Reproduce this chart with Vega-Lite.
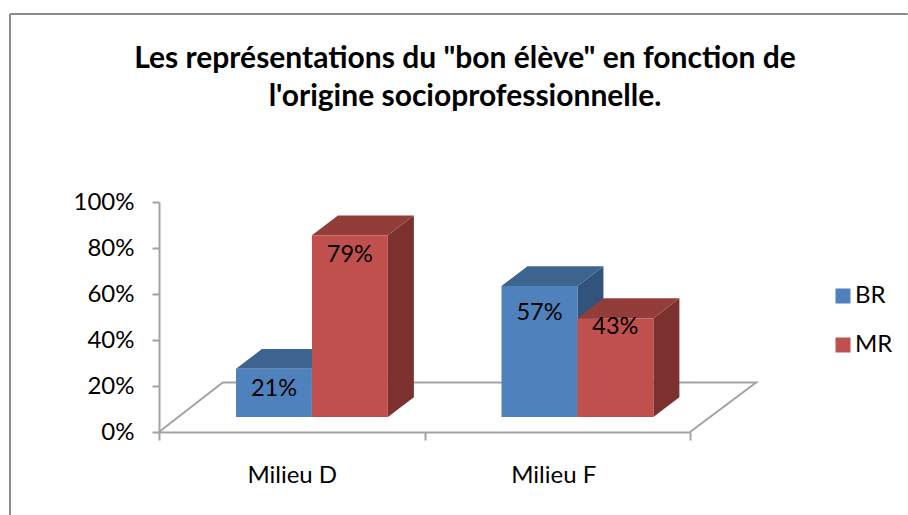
{
"$schema":"https://vega.github.io/schema/vega-lite/v6.json",
"width":898,"height":501,
"autosize":{"type":"none"},
"padding":{"left":10,"top":14,"right":0,"bottom":0},
"background":"white",
"config":{"view":{"stroke":null},"font":"Lato"},
"title":{"text":["Les représentations du \"bon élève\" en fonction de","l'origine socioprofessionnelle."],"font":"Lato","fontSize":30,"fontWeight":"bold","color":"#000000","anchor":"middle","lineHeight":38,"orient":"top","offset":-99,"dx":6},
"data":{"values":[
{"milieu":"Milieu D","serie":"BR","value":21},
{"milieu":"Milieu D","serie":"MR","value":79},
{"milieu":"Milieu F","serie":"BR","value":57},
{"milieu":"Milieu F","serie":"MR","value":43}]},
"transform":[
{"calculate":"(datum.milieu=='Milieu F'?1:0)+0.29+(datum.serie=='MR'?0.286:0)","as":"L"},
{"calculate":"datum.L+0.286","as":"R"},
{"calculate":"6.5","as":"base"},
{"calculate":"datum.base+datum.value","as":"top"},
{"calculate":"datum.milieu+datum.serie","as":"key"},
{"calculate":"(datum.L+datum.R)/2","as":"mid"},
{"calculate":"datum.top-(datum.value==57?11.7:datum.value==43?3.9:8.7)","as":"labY"},
{"calculate":"datum.value/100","as":"frac"}
],
"layer":[
{"transform":[{"filter":"datum.key=='Milieu DBR'"}],
 "mark":{"type":"rule","color":"#8c8c8c","strokeWidth":2},
 "encoding":{
  "x":{"datum":-0.5612,"type":"quantitative","scale":{"domain":[0,2],"range":[149,680],"nice":false,"zero":false},"axis":null},
  "y":{"datum":181.7,"type":"quantitative","scale":{"domain":[0,100],"range":[418,188],"nice":false},"axis":null},
  "y2":{"datum":-36.1}}},
{"transform":[{"filter":"datum.key=='Milieu DBR'"}],
 "mark":{"type":"rule","color":"#8c8c8c","strokeWidth":2},
 "encoding":{
  "x":{"datum":-0.5612,"type":"quantitative","scale":{"domain":[0,2],"range":[149,680],"nice":false,"zero":false},"axis":null},
  "x2":{"datum":2.82},
  "y":{"datum":181.7,"type":"quantitative","scale":{"domain":[0,100],"range":[418,188],"nice":false},"axis":null}}},
{"data":{"values":[{"fx":0,"fy":0,"o":0},{"fx":0.24,"fy":21.5,"o":1},{"fx":2.249,"fy":21.5,"o":2},{"fx":2,"fy":0,"o":3}]},
 "transform":[],
 "mark":{"type":"line","color":"#a3a3a3","strokeWidth":2},
 "encoding":{
  "x":{"field":"fx","type":"quantitative","scale":{"domain":[0,2],"range":[149,680],"nice":false,"zero":false},"axis":null},
  "y":{"field":"fy","type":"quantitative","scale":{"domain":[0,100],"range":[418,188],"nice":false},"axis":null},
  "order":{"field":"o"}}},
{"transform":[{"calculate":"[0,1]","as":"t"},{"flatten":["t"]},
  {"calculate":"datum.R+datum.t*0.098","as":"sx"},
  {"calculate":"datum.base+datum.t*8.6","as":"sy"},
  {"calculate":"datum.top+datum.t*8.6","as":"sy2"}],
 "mark":{"type":"area","orient":"vertical"},
 "encoding":{
  "x":{"field":"sx","type":"quantitative","scale":{"domain":[0,2],"range":[149,680],"nice":false,"zero":false},"axis":null},
  "y":{"field":"sy","type":"quantitative","stack":null,"scale":{"domain":[0,100],"range":[418,188],"nice":false},"axis":null},
  "y2":{"field":"sy2"},
  "detail":{"field":"key"},
  "color":{"field":"serie","type":"nominal","scale":{"domain":["BR","MR"],"range":["#32547C","#7C312E"]},"legend":null}}},
{"transform":[{"calculate":"[0,1]","as":"t"},{"flatten":["t"]},
  {"calculate":"datum.L+datum.t*0.098","as":"tx"},
  {"calculate":"datum.R+datum.t*0.098","as":"tx2"},
  {"calculate":"datum.top+datum.t*8.6","as":"ty"}],
 "mark":{"type":"area","orient":"horizontal"},
 "encoding":{
  "x":{"field":"tx","type":"quantitative","stack":null,"scale":{"domain":[0,2],"range":[149,680],"nice":false,"zero":false},"axis":null},
  "x2":{"field":"tx2"},
  "y":{"field":"ty","type":"quantitative","scale":{"domain":[0,100],"range":[418,188],"nice":false},"axis":null},
  "detail":{"field":"key"},
  "color":{"field":"serie","type":"nominal","scale":{"domain":["BR","MR"],"range":["#3D648F","#933D3A"]},"legend":null}}},
{"mark":{"type":"rect"},
 "encoding":{
  "x":{"field":"L","type":"quantitative","scale":{"domain":[0,2],"range":[149,680],"nice":false,"zero":false},
   "axis":{"orient":"bottom","offset":-83,"title":null,"grid":false,"values":[0,0.5,1,1.485,2],
    "labelExpr":"datum.value==0.5?'Milieu D':datum.value==1.485?'Milieu F':''",
    "tickSize":{"condition":{"test":"datum.value==0||datum.value==1||datum.value==2","value":8},"value":0},
    "tickColor":"#a3a3a3","tickWidth":2,"domainColor":"#a3a3a3","domainWidth":2,
    "labelFont":"Lato","labelFontSize":24,"labelColor":"#000000","labelPadding":31,"labelFlush":false,"labelOverlap":false,"labelBound":false}},
  "x2":{"field":"R"},
  "y":{"field":"base","type":"quantitative","scale":{"domain":[0,100],"range":[418,188],"nice":false},
   "axis":null},
  "y2":{"field":"top"},
  "color":{"field":"serie","type":"nominal","scale":{"domain":["BR","MR"],"range":["#4F81BD","#C0504D"]},
   "legend":{"orient":"none","legendX":821,"legendY":270,"title":null,"symbolType":"square","symbolSize":225,"symbolStrokeWidth":0,"symbolOpacity":1,"labelFont":"Lato","labelFontSize":24,"labelColor":"#000000","rowPadding":25,"labelOffset":0}}}},
{"data":{"values":[{"v":0}]},"transform":[],
 "mark":{"type":"point","opacity":0},
 "encoding":{
  "x":{"datum":0,"type":"quantitative","scale":{"domain":[0,2],"range":[149,680],"nice":false,"zero":false},"axis":null},
  "y":{"field":"v","type":"quantitative","scale":{"domain":[0,100],"range":[418,188],"nice":false},
   "axis":{"orient":"left","offset":-149,"title":null,"grid":false,"values":[0,20,40,60,80,100],"labelExpr":"datum.value+'%'","tickSize":7,"tickColor":"#a3a3a3","tickWidth":2,"domainColor":"#a3a3a3","domainWidth":2,"labelFont":"Lato","labelFontSize":24,"labelColor":"#000000","labelPadding":18}}}},
{"mark":{"type":"text","font":"Lato","fontSize":23.5,"color":"#000000","baseline":"middle","align":"center"},
 "encoding":{
  "x":{"field":"mid","type":"quantitative","scale":{"domain":[0,2],"range":[149,680],"nice":false,"zero":false},"axis":null},
  "y":{"field":"labY","type":"quantitative","scale":{"domain":[0,100],"range":[418,188],"nice":false},"axis":null},
  "text":{"field":"frac","type":"quantitative","format":".0%"}}}
],
"resolve":{"scale":{"color":"independent"},"axis":{"x":"independent","y":"independent"}}
}
